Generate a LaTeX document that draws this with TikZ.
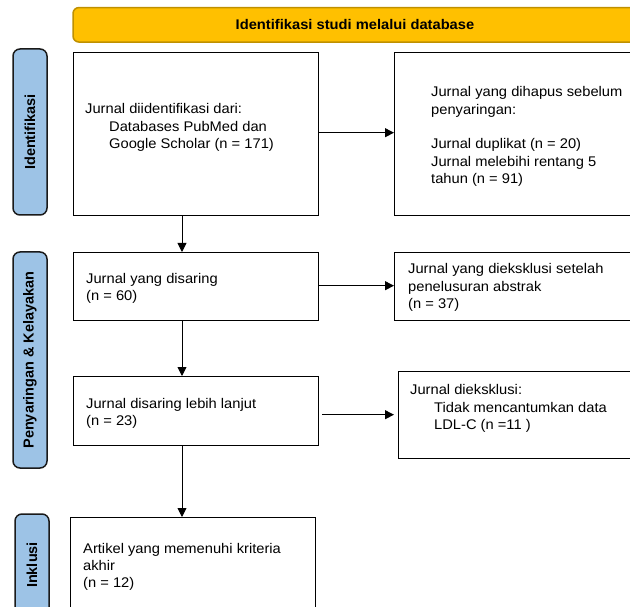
\documentclass[tikz,border=0pt]{standalone}
\usepackage{fontspec}
\setmainfont{Liberation Sans}
\usetikzlibrary{arrows.meta}
\definecolor{bannerfill}{HTML}{FFC000}
\definecolor{bannerline}{HTML}{BF9000}
\definecolor{sidefill}{HTML}{9DC3E6}
\definecolor{sideline}{HTML}{1A1A1A}
\tikzset{
  box/.style={draw=black, line width=1.4pt, fill=white, rectangle, anchor=north west, inner sep=0pt},
  sidebox/.style={draw=sideline, line width=1.5pt, fill=sidefill, rounded corners=7pt, rotate=90, inner sep=0pt, minimum height=34pt, font=\fontsize{14.5}{17}\selectfont\bfseries},
  txt/.style={anchor=north west, inner sep=0pt, align=left, font=\addfontfeature{FakeStretch=1.05}\fontsize{14}{17.3}\selectfont},
  arr/.style={line width=0.9pt, -{Triangle[length=9pt,width=9pt]}}
}
\begin{document}
\begin{tikzpicture}[x=1pt,y=1pt]
\useasboundingbox (0,0) rectangle (630,-607);
\clip (0,0) rectangle (630,-607);
% banner
\node[draw=bannerline, line width=1.5pt, fill=bannerfill, rounded corners=6pt, minimum width=564pt, minimum height=34.5pt, inner sep=0pt, font=\addfontfeature{FakeStretch=1.05}\fontsize{14}{17}\selectfont\bfseries] (banner) at (355,-24.8) {Identifikasi studi melalui database};
% side labels
\node[sidebox, minimum width=166pt] (s1) at (30,-132) {Identifikasi};
\node[sidebox, minimum width=216pt] (s2) at (30,-360) {Penyaringan \& Kelayakan};
\node[sidebox, minimum width=102pt] (s3) at (32,-565) {Inklusi};
% boxes
\node[box, minimum width=245pt, minimum height=163pt] (b1) at (73,-52) {};
\node[box, minimum width=250pt, minimum height=163pt] (b2) at (394,-52) {};
\node[box, minimum width=245pt, minimum height=68pt] (b3) at (73,-252) {};
\node[box, minimum width=250pt, minimum height=68pt] (b4) at (394,-252) {};
\node[box, minimum width=245pt, minimum height=69pt] (b5) at (73,-376) {};
\node[box, minimum width=250pt, minimum height=87pt] (b6) at (397.5,-371) {};
\node[box, minimum width=245pt, minimum height=110pt] (b7) at (70,-517) {};
% texts
\node[txt] (t1) at (85,-103.5) {Jurnal diidentifikasi dari:\\\hspace*{24pt}Databases PubMed dan\\\hspace*{24pt}Google Scholar (n = 171)};
\node[txt] (t2) at (431,-86.5) {Jurnal yang dihapus sebelum\\penyaringan:\\[17.3pt]Jurnal duplikat (n = 20)\\Jurnal melebihi rentang 5\\tahun (n = 91)};
\node[txt] (t3) at (86,-273) {Jurnal yang disaring\\(n = 60)};
\node[txt] (t4) at (408,-263.5) {Jurnal yang dieksklusi setelah\\penelusuran abstrak\\(n = 37)};
\node[txt] (t5) at (86,-398) {Jurnal disaring lebih lanjut\\(n = 23)};
\node[txt] (t6) at (410,-384.5) {Jurnal dieksklusi:\\\hspace*{24pt}Tidak mencantumkan data\\\hspace*{24pt}LDL-C (n =11 )};
\node[txt] (t7) at (83,-543) {Artikel yang memenuhi kriteria\\akhir\\(n = 12)};
% connectors
\coordinate (vx) at (182,0);
\draw[arr] ([yshift=1.5pt]b1.east) -- ([yshift=1.5pt]b1.east -| b2.west);
\draw[arr] ([yshift=1pt]b3.east) -- ([yshift=1pt]b3.east -| b4.west);
\draw[arr, shorten <=3pt, shorten >=3.5pt] ([yshift=-3.5pt]b5.east) -- ([yshift=-3.5pt]b5.east -| b6.west);
\draw[arr] (b1.south -| vx) -- (b3.north -| vx);
\draw[arr] (b3.south -| vx) -- (b5.north -| vx);
\draw[arr] (b5.south -| vx) -- (b7.north -| vx);
\end{tikzpicture}
\end{document}
